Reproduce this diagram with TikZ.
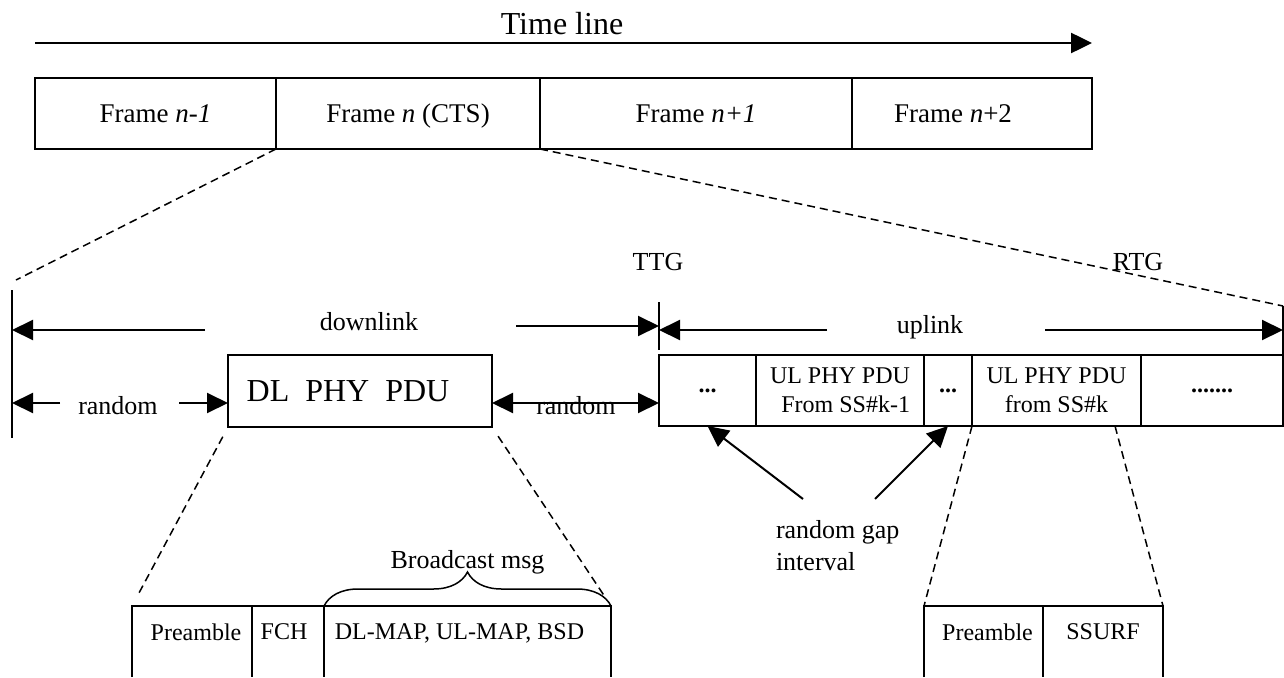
\documentclass[tikz,border=0pt]{standalone}
\usepackage{fontspec}
\setmainfont{Liberation Serif}
\usetikzlibrary{arrows.meta,positioning,decorations.pathreplacing}

\begin{document}
\begin{tikzpicture}[x=1pt, y=-1pt, line width=2pt,
    >={Triangle[length=21pt,width=20pt]},
    txt/.style={inner sep=0pt, font=\fontsize{26}{32}\selectfont},
    celltxt/.style={inner sep=0pt, font=\fontsize{24}{29}\selectfont},
    cell/.style={draw, inner sep=0pt, outer sep=0pt, minimum height=71pt, align=center, font=\fontsize{24}{29}\selectfont},
    framebox/.style={cell, text height=18pt, text depth=0pt, font=\fontsize{27}{32}\selectfont},
    lowcell/.style={inner sep=0pt, outer sep=0pt, minimum height=71pt},
    zoomline/.style={dash pattern=on 8pt off 5pt, line width=1.5pt}]
  \useasboundingbox (0,0) rectangle (1284,677);

  \node[txt, font=\fontsize{32}{38}\selectfont] (tl) at (562,24) {Time line};
  \coordinate (t0) at (35,43);
  \coordinate (t1) at (1092,43);
  \draw[->, line width=2.5pt] (t0) -- (t1);

  \node[framebox, minimum width=241pt, anchor=north west] (f1) at (35,78) {Frame \textit{n-1}};
  \node[framebox, minimum width=264pt, anchor=north west] (f2) at (f1.north east) {Frame \textit{n} (CTS)};
  \node[framebox, minimum width=312pt, anchor=north west] (f3) at (f2.north east) {Frame \textit{n+1}};
  \node[framebox, minimum width=240pt, anchor=north west] (f4) at (f3.north east) {Frame \textit{n}+2\hspace{38pt}};

  \coordinate (dlend) at (16,280);
  \coordinate (ulend) at (1283,306);
  \draw[zoomline] (f2.south west) -- (dlend);
  \draw[zoomline] (f2.south east) -- (ulend);

  \node[txt] (ttg) at (658,262) {TTG};
  \node[txt] (rtg) at (1138,262) {RTG};
  \coordinate (vtop) at (12,290);
  \coordinate (vbot) at (12,438);
  \coordinate (ttgtop) at (659,302);
  \coordinate (ttgbot) at (659,350);
  \draw (vtop) -- (vbot);
  \draw (ttgtop) -- (ttgbot);

  \node[cell, minimum width=264pt, minimum height=72pt, anchor=north west,
        font=\fontsize{32}{38}\selectfont] (dlpdu) at (228,355) {DL\ \ PHY\ \ PDU\hspace{24pt}};

  \node[cell, minimum width=97pt, anchor=north west] (u1) at (659,355) {\textbf{...}};
  \node[cell, minimum width=168pt, anchor=north west, align=right] (u2) at (u1.north east) {UL PHY PDU\\From SS\#k-1};
  \node[cell, minimum width=48pt, anchor=north west] (u3) at (u2.north east) {\textbf{...}};
  \node[cell, minimum width=169pt, anchor=north west] (u4) at (u3.north east) {UL PHY PDU\\from SS\#k};
  \node[cell, minimum width=142pt, anchor=north west] (u5) at (u4.north east) {\textbf{.......}};
  \draw (ulend) -- (u5.north east);

  \node[txt] (dl) at (369,322) {downlink};
  \node[txt] (ul) at (930,327) {uplink};
  \coordinate (dla) at (205,330);
  \coordinate (dlb) at (516,326);
  \coordinate (ula) at (827,330);
  \coordinate (ulb) at (1045,330);
  \draw[->] (dla) -- (vtop |- dla);
  \draw[->] (dlb) -- (ttgtop |- dlb);
  \draw[->] (ula) -- (ttgtop |- ula);
  \draw[->] (ulb) -- (ulend |- ulb);

  \node[txt] (rnd1) at (118,406) {random};
  \node[txt] (rnd2) at (576,406) {random};
  \coordinate (rda) at (60,403);
  \coordinate (rdb) at (179,403);
  \draw[->] (rda) -- (vtop |- rda);
  \draw[->] (rdb) -- (dlpdu.west |- rdb);
  \draw[<->] (dlpdu.east |- rdb) -- (u1.west |- rdb);

  \node[txt, align=left, anchor=north west] (gap) at (775,519) {random gap\\interval};
  \coordinate (ga) at (803,499);
  \coordinate (gb) at (875,499);
  \draw[->] (ga) -- (u1.south);
  \draw[->] (gb) -- (u3.south);

  \node[lowcell, minimum width=120pt, anchor=north west] (b1) at (132,606) {};
  \node[lowcell, minimum width=72pt, anchor=north west] (b2) at (b1.north east) {};
  \node[lowcell, minimum width=287pt, anchor=north west] (b3) at (b2.north east) {};
  \draw (b1.south west) |- (b3.north east) -- (b3.south east);
  \draw (b1.north east) -- (b1.south east);
  \draw (b2.north east) -- (b2.south east);
  \node[celltxt, below=17pt of b1.north, xshift=4pt] (pre1) {Preamble};
  \node[celltxt, below=17pt of b2.north, xshift=-4pt] (fch) {FCH};
  \node[celltxt, below=17pt of b3.north, xshift=-8pt] (maps) {DL-MAP, UL-MAP, BSD};
  \draw[decorate, decoration={brace, amplitude=34pt}, line width=1.5pt] (b3.north west) -- (b3.north east)
    node[txt, midway, above=31pt] (bcast) {Broadcast msg};
  \draw[zoomline, shorten <=11pt, shorten >=13pt] (dlpdu.south west) -- (b1.north west);
  \draw[zoomline, shorten <=11pt, shorten >=13pt] (dlpdu.south east) -- (b3.north east);

  \node[lowcell, minimum width=119pt, anchor=north west] (s1) at (924,606) {};
  \node[lowcell, minimum width=120pt, anchor=north west] (s2) at (s1.north east) {};
  \draw (s1.south west) |- (s2.north east) -- (s2.south east);
  \draw (s1.north east) -- (s1.south east);
  \node[celltxt, below=17pt of s1.north, xshift=4pt] (pre2) {Preamble};
  \node[celltxt, below=17pt of s2.north] (ssurf) {SSURF};
  \coordinate (u4r) at (1115,426);
  \draw[zoomline] (u4.south west) -- (s1.north west);
  \draw[zoomline] (u4r) -- (s2.north east);
\end{tikzpicture}
\end{document}
